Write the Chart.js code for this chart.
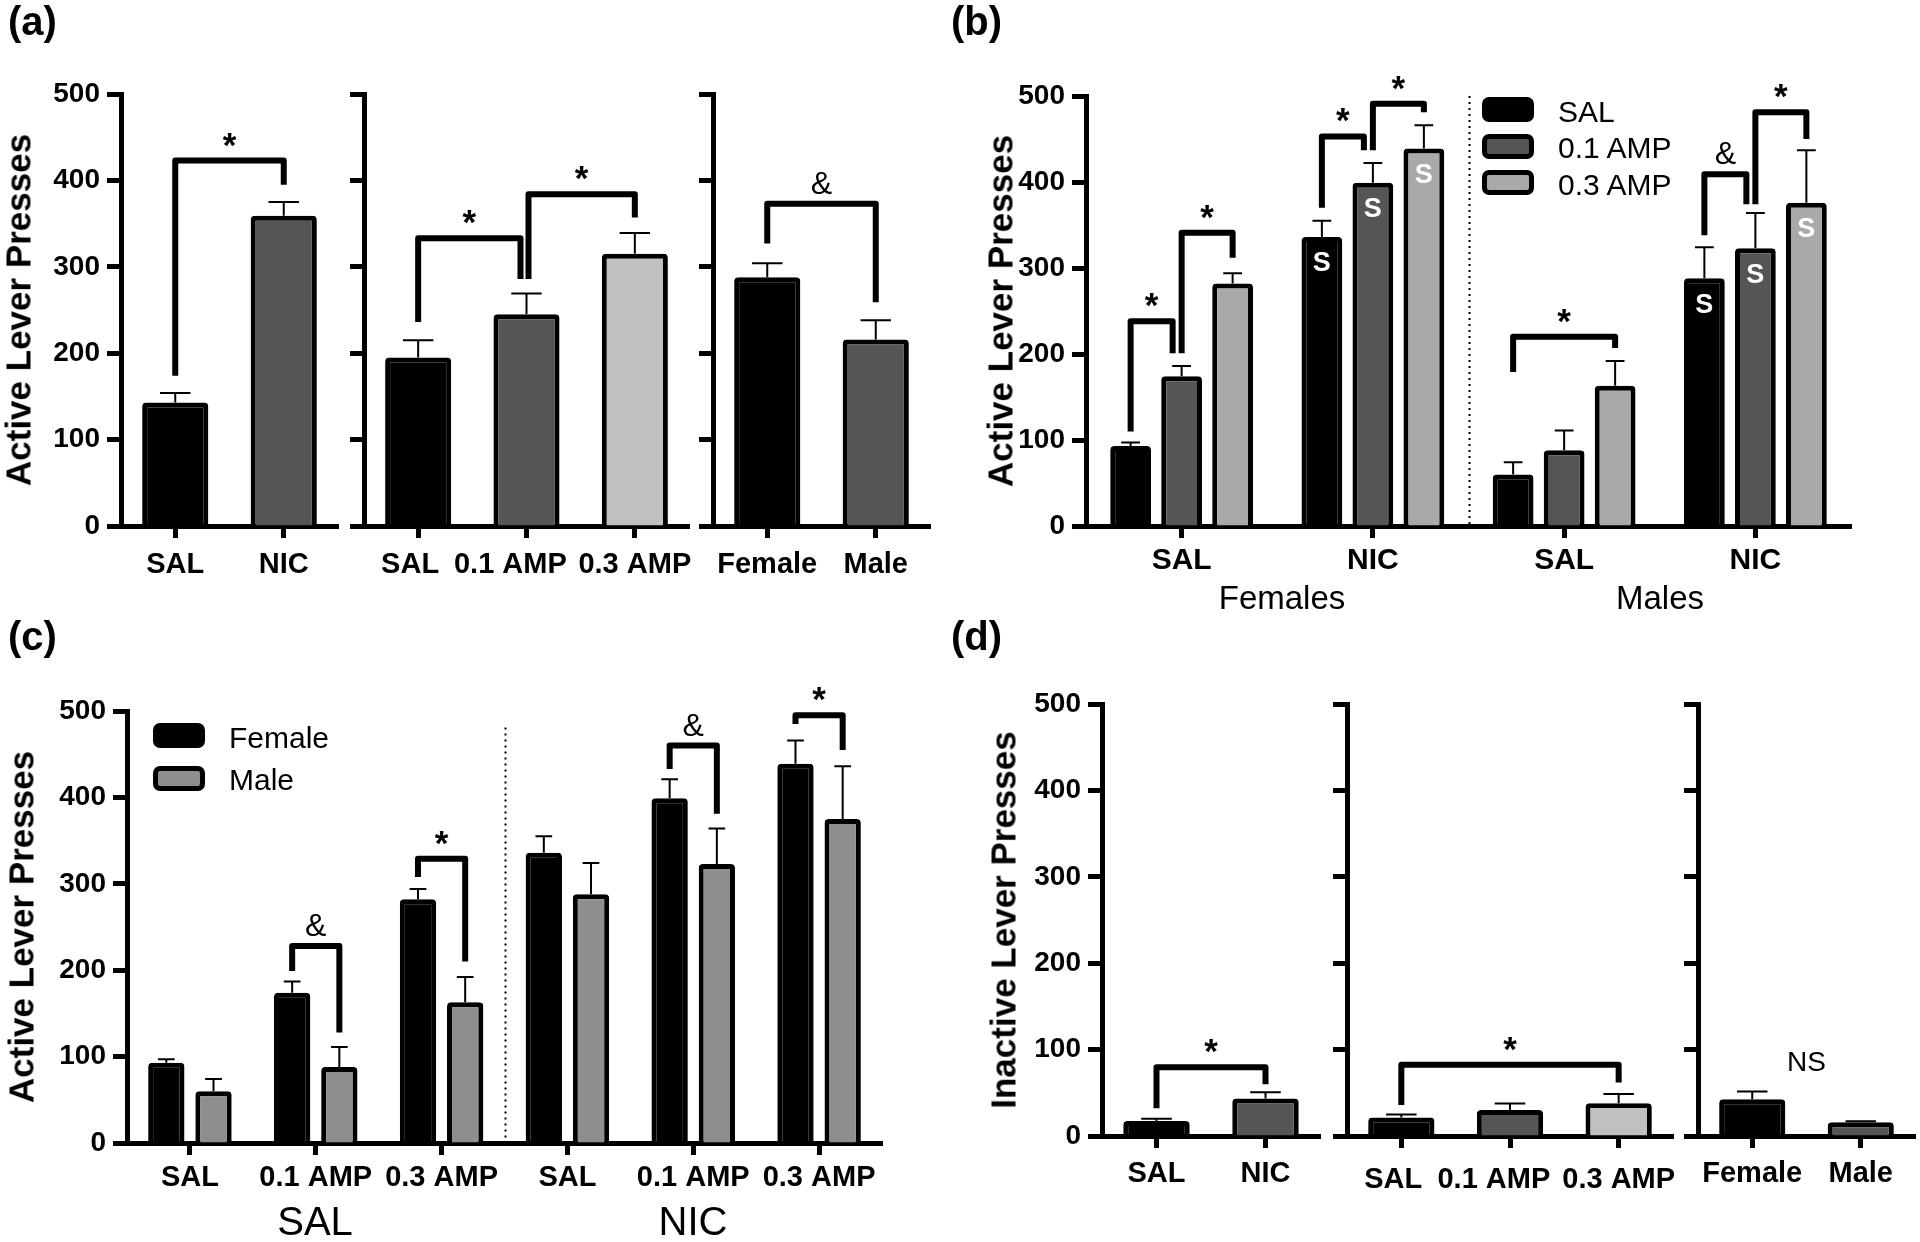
<!DOCTYPE html>
<html>
<head>
<meta charset="utf-8">
<script src="https://cdn.jsdelivr.net/npm/chart.js@4.4.1/dist/chart.umd.min.js"></script>
<style>
  html, body { margin: 0; padding: 0; background: #fff; }
  #page { position: relative; width: 1920px; height: 1242px; overflow: hidden; background: #fff; }
  #page canvas { position: absolute; }
  .txt { position: absolute; white-space: pre; line-height: 1; color: #000; font-family: 'Liberation Sans', Arial, sans-serif; }
  .box { position: absolute; box-sizing: border-box; border: 5px solid #000; border-radius: 7px; }
</style>
</head>
<body>
<div id="page"></div>
<script>
// ---- data ----
// (a) active lever presses
const aLabels1 = ['SAL', 'NIC'];
const aMeans1 = [143, 359];
const aUpper1 = [154, 375];
const aLabels2 = ['SAL', '0.1 AMP', '0.3 AMP'];
const aMeans2 = [195, 245, 315];
const aUpper2 = [215, 269, 339];
const aLabels3 = ['Female', 'Male'];
const aMeans3 = [288, 216];
const aUpper3 = [304, 238];

// (b) sex x drug x AMP dose
const bGroups = ['SAL', 'NIC', 'SAL', 'NIC'];
const bSeries = ['SAL', '0.1 AMP', '0.3 AMP'];
const bSal = [93, 336, 60, 288];
const bSalUpper = [97, 355, 74, 324];
const bAmp01 = [174, 399, 88, 323];
const bAmp01Upper = [186, 422, 111, 364];
const bAmp03 = [282, 439, 163, 376];
const bAmp03Upper = [294, 466, 192, 437];
const bMarked = [false, true, false, true]; // 'S' groups

// (c) female vs male
const cLabels = ['SAL', '0.1 AMP', '0.3 AMP', 'SAL', '0.1 AMP', '0.3 AMP'];
const cSeries = ['Female', 'Male'];
const cFemale = [93, 174, 282, 336, 399, 439];
const cFemaleUpper = [97, 187, 294, 355, 421, 466];
const cMale = [60, 88, 163, 288, 323, 375];
const cMaleUpper = [74, 111, 192, 324, 364, 436];

// (d) inactive lever presses
const dLabels1 = ['SAL', 'NIC'];
const dMeans1 = [17.5, 43.5];
const dUpper1 = [20, 50.5];
const dLabels2 = ['SAL', '0.1 AMP', '0.3 AMP'];
const dMeans2 = [21.5, 30, 38];
const dUpper2 = [25, 37.5, 48.5];
const dLabels3 = ['Female', 'Male'];
const dMeans3 = [42.5, 16];
const dUpper3 = [51.5, 17];

// significance brackets: legs at [dataset, index], heights in data units
const aBrackets1 = [{ from: [0, 0], to: [0, 1], y1: 174, top: 423, y2: 395, text: '*' }];
const aBrackets2 = [
  { from: [0, 0], to: [0, 1], y1: 236, top: 333, y2: 286, text: '*', dx2: -6 },
  { from: [0, 1], to: [0, 2], y1: 286, top: 384, y2: 357, text: '*', dx1: 2 }
];
const aBrackets3 = [{ from: [0, 0], to: [0, 1], y1: 327, top: 373, y2: 259, text: '&' }];
const bBrackets = [
  { from: [0, 0], to: [1, 0], y1: 110, top: 238, y2: 201, text: '*', dx2: -9 },
  { from: [1, 0], to: [2, 0], y1: 201, top: 341, y2: 312, text: '*' },
  { from: [0, 1], to: [1, 1], y1: 370, top: 453, y2: 437, text: '*', dx2: -9 },
  { from: [1, 1], to: [2, 1], y1: 437, top: 491, y2: 481, text: '*' },
  { from: [0, 2], to: [2, 2], y1: 179, top: 220, y2: 207, text: '*' },
  { from: [0, 3], to: [1, 3], y1: 338, top: 409, y2: 374, text: '&', dx2: -9 },
  { from: [1, 3], to: [2, 3], y1: 374, top: 481, y2: 450, text: '*' }
];
const cBrackets = [
  { from: [0, 1], to: [1, 1], y1: 199, top: 228, y2: 128, text: '&' },
  { from: [0, 2], to: [1, 2], y1: 308, top: 329, y2: 210, text: '*' },
  { from: [0, 4], to: [1, 4], y1: 433, top: 460, y2: 381, text: '&' },
  { from: [0, 5], to: [1, 5], y1: 485, top: 495, y2: 455, text: '*' }
];
const dBrackets1 = [{ from: [0, 0], to: [0, 1], y1: 32, top: 79.5, y2: 60, text: '*' }];
const dBrackets2 = [{ from: [0, 0], to: [0, 2], y1: 36, top: 82.5, y2: 62, text: '*' }];
const dNotes3 = [{ x: 0.5, y: 86, text: 'NS' }];

// ---- layout helpers ----
const FONT = "'Liberation Sans', Arial, sans-serif";
Chart.defaults.font.family = FONT;
Chart.defaults.color = '#000';

const AXIS_W = 110, AXIS_H = 80, PAD_T = 70, PAD_R = 70;
const page = document.getElementById('page');

const BLACK = '#000000', DARK = '#555555', LIGHT = '#c0c0c0', LIGHT_B = '#a9a9a9', MID = '#8e8e8e';

const annotate = {
  id: 'annotate',
  afterDatasetsDraw(chart) {
    const o = chart.options.plugins.annotate || {};
    const ctx = chart.ctx;
    const xs = chart.scales.x, ys = chart.scales.y;
    ctx.save();
    ctx.strokeStyle = '#000';
    ctx.fillStyle = '#000';

    (o.dividers || []).forEach((d) => {
      const px = Math.round(xs.getPixelForValue(d.after + 0.5)) + 0.5;
      ctx.save();
      ctx.lineWidth = 2;
      ctx.setLineDash([2, 4]);
      ctx.beginPath();
      ctx.moveTo(px, ys.getPixelForValue(d.top));
      ctx.lineTo(px, ys.getPixelForValue(0));
      ctx.stroke();
      ctx.restore();
    });

    chart.data.datasets.forEach((ds, di) => {
      const meta = chart.getDatasetMeta(di);
      meta.data.forEach((bar, i) => {
        if (ds.upper) {
          const top = ys.getPixelForValue(ds.upper[i]);
          const hw = bar.width * 0.23;
          ctx.lineWidth = 2;
          ctx.beginPath();
          ctx.moveTo(bar.x, bar.y);
          ctx.lineTo(bar.x, top);
          ctx.moveTo(bar.x - hw, top);
          ctx.lineTo(bar.x + hw, top);
          ctx.stroke();
        }
        if (ds.marked && ds.marked[i]) {
          ctx.save();
          ctx.fillStyle = '#fff';
          ctx.font = 'bold 27px ' + FONT;
          ctx.textAlign = 'center';
          ctx.textBaseline = 'middle';
          ctx.fillText('S', bar.x, bar.y + 27);
          ctx.restore();
        }
      });
    });

    const centred = (text, cx, cy, font) => {
      ctx.font = font;
      ctx.textAlign = 'center';
      ctx.textBaseline = 'alphabetic';
      const m = ctx.measureText(text);
      ctx.fillText(text, cx, cy + (m.actualBoundingBoxAscent - m.actualBoundingBoxDescent) / 2);
    };
    const labelFont = (t) => (t === '*' ? 'bold 35px ' : t === '&' ? '32px ' : '28px ') + FONT;

    (o.brackets || []).forEach((b) => {
      const x1 = chart.getDatasetMeta(b.from[0]).data[b.from[1]].x + (b.dx1 || 0);
      const x2 = chart.getDatasetMeta(b.to[0]).data[b.to[1]].x + (b.dx2 || 0);
      const pt = ys.getPixelForValue(b.top);
      ctx.lineWidth = 6;
      ctx.lineJoin = 'round';
      ctx.beginPath();
      ctx.moveTo(x1, ys.getPixelForValue(b.y1));
      ctx.lineTo(x1, pt);
      ctx.lineTo(x2, pt);
      ctx.lineTo(x2, ys.getPixelForValue(b.y2));
      ctx.stroke();
      centred(b.text, (x1 + x2) / 2, pt - 21, labelFont(b.text));
    });

    (o.notes || []).forEach((n) => {
      centred(n.text, xs.getPixelForValue(n.x), ys.getPixelForValue(n.y), labelFont(n.text));
    });
    ctx.restore();
  }
};

function makeChart(area, labels, datasets, opts) {
  const w = area.r - area.l, h = area.b - area.t;
  const canvas = document.createElement('canvas');
  canvas.width = AXIS_W + w + PAD_R;
  canvas.height = PAD_T + h + AXIS_H;
  canvas.style.left = (area.l - AXIS_W) + 'px';
  canvas.style.top = (area.t - PAD_T) + 'px';
  page.appendChild(canvas);

  // trailing spaces nudge crowded labels to the left, as in the original
  const nudge = opts.nudge || [];

  return new Chart(canvas, {
    type: 'bar',
    data: { labels, datasets },
    options: {
      responsive: false,
      animation: false,
      layout: { padding: { top: PAD_T, right: PAD_R, left: 0, bottom: 0 } },
      plugins: {
        legend: { display: false },
        tooltip: { enabled: false },
        annotate: opts.annotate || {}
      },
      scales: {
        x: {
          grid: { offset: false, drawOnChartArea: false, tickLength: 12, tickWidth: 5, tickColor: '#000' },
          border: { color: '#000', width: 5 },
          ticks: {
            color: '#000',
            font: { size: opts.xSize || 29, weight: 'bold' },
            padding: opts.xPad ?? 6,
            maxRotation: 0, minRotation: 0, autoSkip: false,
            callback(value, i) { return this.getLabelForValue(value) + ' '.repeat(nudge[i] || 0); }
          },
          afterFit: (s) => { s.height = AXIS_H; }
        },
        y: {
          min: 0,
          max: 500,
          grid: { drawOnChartArea: false, tickLength: 14, tickWidth: 5, tickColor: '#000' },
          border: { color: '#000', width: 5 },
          ticks: { stepSize: 100, display: !!opts.yLabels, color: '#000', font: { size: 28, weight: 'bold' }, padding: 7 },
          afterFit: (s) => { s.width = AXIS_W; }
        }
      }
    },
    plugins: [annotate]
  });
}

function barSet(label, data, upper, fill, extra) {
  return Object.assign({
    label, data, upper,
    backgroundColor: fill,
    borderColor: '#000',
    borderWidth: 5,
    borderRadius: 4,
    borderSkipped: 'start'
  }, extra || {});
}

function addText(str, x, baseline, size, weight, align) {
  const d = document.createElement('div');
  d.className = 'txt';
  d.textContent = str;
  d.style.fontSize = size + 'px';
  d.style.fontWeight = weight;
  d.style.top = (baseline - 0.8465 * size) + 'px';
  d.style.left = x + 'px';
  if (align === 'center') d.style.transform = 'translateX(-50%)';
  page.appendChild(d);
}

function addYTitle(str, cx, cy) {
  const d = document.createElement('div');
  d.className = 'txt';
  d.textContent = str;
  d.style.fontSize = '35px';
  d.style.fontWeight = 'bold';
  d.style.left = cx + 'px';
  d.style.top = cy + 'px';
  d.style.transform = 'translate(-50%, -50%) rotate(-90deg)';
  page.appendChild(d);
}

function addLegend(names, fills, left, top, step) {
  names.forEach((name, i) => {
    const b = document.createElement('div');
    b.className = 'box';
    b.style.left = left + 'px';
    b.style.top = (top + i * step) + 'px';
    b.style.width = '52px';
    b.style.height = '25px';
    b.style.background = fills[i];
    page.appendChild(b);
    addText(name, left + 76, top + i * step + 25, 30, 'normal');
  });
}

// ---- panel (a) ----
const single = { barPercentage: 0.61, categoryPercentage: 1 };
makeChart({ l: 121, r: 338, t: 94, b: 526 }, aLabels1,
  [barSet('a1', aMeans1, aUpper1, [BLACK, DARK], single)],
  { yLabels: true, xPad: 10, annotate: { brackets: aBrackets1 } });
makeChart({ l: 364, r: 689, t: 94, b: 526 }, aLabels2,
  [barSet('a2', aMeans2, aUpper2, [BLACK, DARK, LIGHT], single)],
  { xPad: 10, nudge: [2, 4, 0], annotate: { brackets: aBrackets2 } });
makeChart({ l: 713, r: 930, t: 94, b: 526 }, aLabels3,
  [barSet('a3', aMeans3, aUpper3, [BLACK, DARK], single)],
  { xPad: 10, annotate: { brackets: aBrackets3 } });

// ---- panel (b) ----
const grouped3 = { barPercentage: 0.8, categoryPercentage: 0.8 };
makeChart({ l: 1086, r: 1851, t: 96, b: 526 }, bGroups, [
  barSet(bSeries[0], bSal, bSalUpper, BLACK, Object.assign({ marked: bMarked }, grouped3)),
  barSet(bSeries[1], bAmp01, bAmp01Upper, DARK, Object.assign({ marked: bMarked }, grouped3)),
  barSet(bSeries[2], bAmp03, bAmp03Upper, LIGHT_B, Object.assign({ marked: bMarked }, grouped3))
], { yLabels: true, xPad: 5, xSize: 30, annotate: { brackets: bBrackets, dividers: [{ after: 1, top: 500 }] } });

// ---- panel (c) ----
const grouped2 = { barPercentage: 0.77, categoryPercentage: 0.75 };
makeChart({ l: 127, r: 882, t: 711, b: 1143 }, cLabels, [
  barSet(cSeries[0], cFemale, cFemaleUpper, BLACK, grouped2),
  barSet(cSeries[1], cMale, cMaleUpper, MID, grouped2)
], { yLabels: true, xPad: 6, annotate: { brackets: cBrackets, dividers: [{ after: 2, top: 481 }] } });

// ---- panel (d) ----
makeChart({ l: 1102, r: 1320, t: 704, b: 1136 }, dLabels1,
  [barSet('d1', dMeans1, dUpper1, [BLACK, DARK], single)],
  { yLabels: true, xPad: 9, annotate: { brackets: dBrackets1 } });
makeChart({ l: 1347, r: 1673, t: 704, b: 1136 }, dLabels2,
  [barSet('d2', dMeans2, dUpper2, [BLACK, DARK, LIGHT], single)],
  { xPad: 15, nudge: [2, 4, 0], annotate: { brackets: dBrackets2 } });
makeChart({ l: 1698, r: 1915, t: 704, b: 1136 }, dLabels3,
  [barSet('d3', dMeans3, dUpper3, [BLACK, DARK], single)],
  { xPad: 9, annotate: { notes: dNotes3 } });

// ---- free text ----
addText('(a)', 8, 35, 40, 'bold');
addText('(b)', 951, 35, 40, 'bold');
addText('(c)', 8, 650, 40, 'bold');
addText('(d)', 951, 650, 40, 'bold');

addYTitle('Active Lever Presses', 18, 310);
addYTitle('Active Lever Presses', 1000, 311);
addYTitle('Active Lever Presses', 21, 927);
addYTitle('Inactive Lever Presses', 1003, 920);

addText('Females', 1282, 609, 33, 'normal', 'center');
addText('Males', 1660, 609, 33, 'normal', 'center');
addText('SAL', 315, 1235, 40, 'normal', 'center');
addText('NIC', 693, 1235, 40, 'normal', 'center');

addLegend(bSeries, [BLACK, DARK, LIGHT_B], 1482, 97, 36.5);
addLegend(cSeries, [BLACK, MID], 153, 723, 42.5);
</script>
</body>
</html>
